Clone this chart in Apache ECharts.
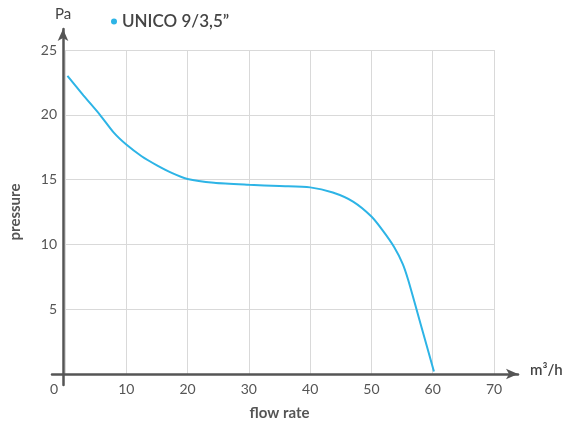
<!DOCTYPE html>
<html><head><meta charset="utf-8">
<script src="https://cdn.jsdelivr.net/npm/echarts@6/dist/echarts.min.js"></script>
<style>html,body{margin:0;padding:0;background:#fff}#c{width:566px;height:430px}</style>
</head><body><div id="c"></div>
<script>
const seriesName = 'UNICO 9/3,5”';
const flow = [0.4, 3, 5.7, 8, 10, 12.5, 15, 17.5, 20, 24.3, 30, 35, 40, 43.7, 47, 50, 51.8, 53.7, 55.1, 56, 58, 60.2];
const pressure = [23, 21.5, 20, 18.6, 17.7, 16.8, 16.1, 15.5, 15.05, 14.76, 14.6, 14.5, 14.4, 14.0, 13.3, 12.15, 11.1, 9.8, 8.5, 7.25, 3.9, 0.2];
const xTicks = [0, 10, 20, 30, 40, 50, 60, 70];
const yTicks = [0, 5, 10, 15, 20, 25];

const font = 'Lato, "Open Sans", sans-serif';
const chart = echarts.init(document.getElementById('c'), null, {renderer: 'canvas'});
chart.setOption({
  animation: false,
  legend: {
    left: 106, top: 8, icon: 'circle', itemWidth: 6, itemHeight: 6, itemGap: 5,
    textStyle: {fontFamily: font, fontSize: 17, fontWeight: 600, color: '#444'}
  },
  grid: [
    {left: 63, right: 72, top: 50, bottom: 56},
    {left: 52, right: 48, top: 29, bottom: 45}
  ],
  xAxis: [
    {type: 'value', gridIndex: 0, min: xTicks[0], max: xTicks[xTicks.length-1], interval: 10,
     name: 'flow rate', nameLocation: 'middle', nameGap: 32,
     nameTextStyle: {fontFamily: font, fontSize: 15, fontWeight: 'bold', color: '#555'},
     axisLine: {show: false}, axisTick: {show: false},
     axisLabel: {color: '#555', fontFamily: font, fontSize: 14, margin: 8,
       formatter: v => v === 0 ? '{z|0}' : String(v),
       rich: {z: {padding: [0, 22, 0, 0], color: '#555', fontFamily: font, fontSize: 14}}},
     splitLine: {lineStyle: {color: '#d9d9d9', width: 1}}},
    {type: 'value', gridIndex: 1, min: 0, max: 1, offset: -11,
     name: 'm³/h', nameLocation: 'end', nameGap: 12,
     nameTextStyle: {fontFamily: font, fontSize: 15, fontWeight: 600, color: '#444', verticalAlign: 'bottom', padding: [0,0,-4,0]},
     axisLine: {show: true, symbol: ['none', 'arrow'], symbolSize: [8, 12], lineStyle: {color: '#555', width: 2.5}},
     axisTick: {show: false}, axisLabel: {show: false}, splitLine: {show: false}}
  ],
  yAxis: [
    {type: 'value', gridIndex: 0, min: yTicks[0], max: yTicks[yTicks.length-1], interval: 5,
     name: 'pressure', nameLocation: 'middle', nameGap: 42,
     nameTextStyle: {fontFamily: font, fontSize: 15, fontWeight: 'bold', color: '#555'},
     axisLine: {show: false}, axisTick: {show: false},
     axisLabel: {color: '#555', fontFamily: font, fontSize: 14, margin: 8, showMinLabel: false},
     splitLine: {lineStyle: {color: '#d9d9d9', width: 1}}},
    {type: 'value', gridIndex: 1, min: 0, max: 1, offset: -11,
     name: 'Pa', nameLocation: 'end', nameGap: 7,
     nameTextStyle: {fontFamily: font, fontSize: 15, color: '#444'},
     axisLine: {show: true, symbol: ['none', 'arrow'], symbolSize: [8, 12], lineStyle: {color: '#555', width: 2.5}},
     axisTick: {show: false}, axisLabel: {show: false}, splitLine: {show: false}}
  ],
  series: [{
    name: seriesName, type: 'line', xAxisIndex: 0, yAxisIndex: 0,
    data: flow.map((x, i) => [x, pressure[i]]),
    smooth: 0.25, showSymbol: false, symbol: 'none',
    lineStyle: {color: '#2db4e6', width: 2}, itemStyle: {color: '#2db4e6'}
  }]
});
</script></body></html>
